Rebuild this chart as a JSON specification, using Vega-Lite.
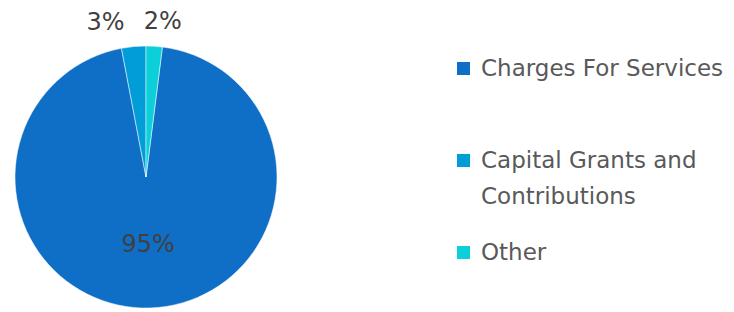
{
  "$schema": "https://vega.github.io/schema/vega-lite/v6.json",
  "width": 262,
  "height": 262,
  "padding": {"left": 15, "top": 46, "right": 457, "bottom": 4},
  "autosize": {"type": "none"},
  "background": "white",
  "config": {"style": {"guide-label": {"lineHeight": 36}}},
  "data": {
    "values": [
      {"cat": "Charges For Services", "value": 95, "label": "95%", "order": 1},
      {"cat": "Capital Grants and Contributions", "value": 3, "label": "3%", "order": 2},
      {"cat": "Other", "value": 2, "label": "2%", "order": 3}
    ]
  },
  "encoding": {
    "theta": {"field": "value", "type": "quantitative", "stack": true, "scale": {"range": [0.12566, 6.40885]}},
    "order": {"field": "order", "type": "quantitative"},
    "color": {
      "field": "cat",
      "type": "nominal",
      "sort": ["Charges For Services", "Capital Grants and Contributions", "Other"],
      "scale": {"domain": ["Charges For Services", "Capital Grants and Contributions", "Other"], "range": ["#0F6FC6", "#009DD9", "#0BD0D9"]},
      "legend": {
        "title": null,
        "orient": "none",
        "legendX": 437,
        "legendY": 11,
        "symbolType": "square",
        "symbolSize": 169,
        "symbolStrokeWidth": 0,
        "symbolOpacity": 1,
        "labelFont": "DejaVu Sans",
        "labelFontSize": 23,
        "labelColor": "#595959",
        "labelOffset": 6,
        "labelLimit": 300,
        "rowPadding": 32,
        "labelExpr": "datum.label == 'Capital Grants and Contributions' ? ['Capital Grants and', 'Contributions'] : [datum.label, '']"
      }
    }
  },
  "layer": [
    {"mark": {"type": "arc", "outerRadius": 131, "stroke": "white", "strokeWidth": 0.5}},
    {
      "mark": {"type": "text", "radius": 68, "font": "DejaVu Sans", "fontSize": 24, "color": "#404040"},
      "encoding": {"text": {"condition": {"test": "datum.value > 50", "field": "label"}, "value": ""}, "color": {"value": "#404040"}}
    },
    {
      "mark": {"type": "text", "radius": 155, "font": "DejaVu Sans", "fontSize": 24, "color": "#404040", "dx": {"expr": "datum.cat == 'Capital Grants and Contributions' ? -26 : 7"}},
      "encoding": {"text": {"condition": {"test": "datum.value < 50", "field": "label"}, "value": ""}, "color": {"value": "#404040"}}
    }
  ]
}
